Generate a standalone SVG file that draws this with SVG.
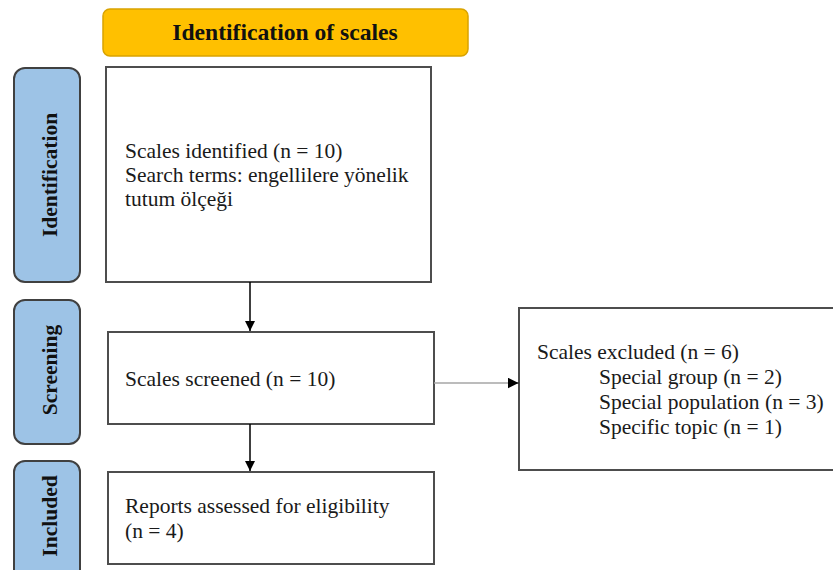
<svg xmlns="http://www.w3.org/2000/svg" width="833" height="570" viewBox="0 0 833 570">
<defs>
<style>
.box{fill:#fff;stroke:#4d4d4d;stroke-width:2}
.side{fill:#9DC3E6;stroke:#404040;stroke-width:2}
.body-text{font-family:'Liberation Serif','Times New Roman',serif;font-size:21.5px;fill:#1a1a1a}
.bold-text{font-family:'Liberation Serif','Times New Roman',serif;font-size:21.5px;font-weight:bold;fill:#111}
.head-text{font-family:'Liberation Serif','Times New Roman',serif;font-size:23.6px;font-weight:bold;fill:#111}
.c{fill:none;stroke:#000;stroke-width:1.5}
</style>
<marker id="ah" viewBox="0 0 10 10" refX="10" refY="5" markerWidth="10" markerHeight="10" markerUnits="userSpaceOnUse" orient="auto"><path d="M0,0L10,5L0,10Z" fill="#000"/></marker>
<marker id="ah2" viewBox="0 0 10 10" refX="10" refY="5" markerWidth="11" markerHeight="11" markerUnits="userSpaceOnUse" orient="auto"><path d="M0,0L10,5L0,10Z" fill="#000"/></marker>
</defs>
<rect width="833" height="570" fill="#fff"/>
<g id="header">
<rect x="103" y="9" width="365" height="47" rx="7" fill="#FFC000" stroke="#D9A300" stroke-width="1.5"/>
<text class="head-text" font-family="Liberation Serif, serif" x="285" y="40" text-anchor="middle">Identification of scales</text>
</g>
<g id="side-identification">
<rect class="side" x="14" y="68" width="66" height="214" rx="11"/>
<text class="bold-text" font-family="Liberation Serif, serif" transform="translate(57,175) rotate(-90)" text-anchor="middle">Identification</text>
</g>
<g id="side-screening">
<rect class="side" x="14" y="300" width="66" height="144" rx="11"/>
<text class="bold-text" font-family="Liberation Serif, serif" transform="translate(57,370) rotate(-90)" text-anchor="middle">Screening</text>
</g>
<g id="side-included">
<rect class="side" x="14" y="461" width="66" height="130" rx="11"/>
<text class="bold-text" font-family="Liberation Serif, serif" transform="translate(57,516) rotate(-90)" text-anchor="middle">Included</text>
</g>
<g id="identified">
<rect class="box" x="106" y="67" width="325" height="215"/>
<text class="body-text" font-family="Liberation Serif, serif" x="125" y="158">Scales identified (n = 10)</text>
<text class="body-text" font-family="Liberation Serif, serif" x="125" y="182">Search terms: engellilere yönelik</text>
<text class="body-text" font-family="Liberation Serif, serif" x="125" y="206">tutum ölçeği</text>
</g>
<g id="screened">
<rect class="box" x="108" y="332" width="326" height="92"/>
<text class="body-text" font-family="Liberation Serif, serif" x="125" y="386">Scales screened (n = 10)</text>
</g>
<g id="included">
<rect class="box" x="108" y="472" width="326" height="92"/>
<text class="body-text" font-family="Liberation Serif, serif" x="125" y="513">Reports assessed for eligibility</text>
<text class="body-text" font-family="Liberation Serif, serif" x="125" y="538">(n = 4)</text>
</g>
<g id="excluded">
<rect class="box" x="519" y="308" width="330" height="162"/>
<text class="body-text" font-family="Liberation Serif, serif" x="537" y="359">Scales excluded (n = 6)</text>
<text class="body-text" font-family="Liberation Serif, serif" x="599" y="384">Special group (n = 2)</text>
<text class="body-text" font-family="Liberation Serif, serif" x="599" y="409">Special population (n = 3)</text>
<text class="body-text" font-family="Liberation Serif, serif" x="599" y="434">Specific topic (n = 1)</text>
</g>
<g id="connectors">
<path class="c" d="M250,282V331" marker-end="url(#ah)"/>
<path class="c" d="M250,424V471" marker-end="url(#ah)"/>
<path d="M434,383H508" stroke="#A6A6A6" stroke-width="1.5" fill="none"/>
<path d="M508,383H518.5" stroke="#000" stroke-width="1" fill="none" marker-end="url(#ah2)"/>
</g>
</svg>
